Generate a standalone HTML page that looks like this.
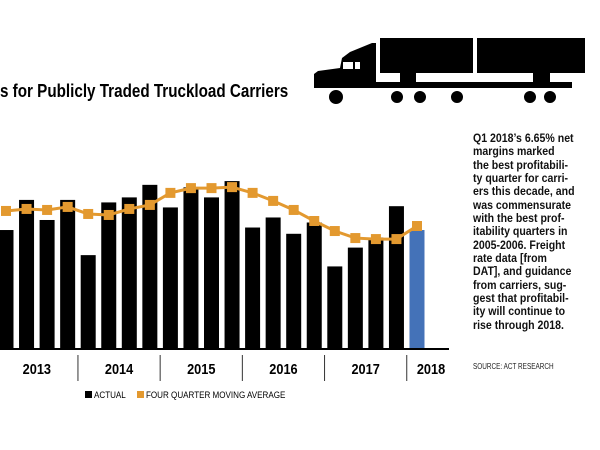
<!DOCTYPE html>
<html><head><meta charset="utf-8">
<style>
body{margin:0;width:600px;height:450px;background:#fff;overflow:hidden;font-family:"Liberation Sans",sans-serif;}
#wrap{position:relative;width:600px;height:450px;}
.title{position:absolute;left:0;top:82px;font-weight:bold;font-size:18px;line-height:18px;transform:scaleX(0.845);transform-origin:left top;white-space:nowrap;}
.note{position:absolute;left:473px;top:132px;width:150px;font-weight:bold;font-size:12px;line-height:13.35px;transform:scaleX(0.88);transform-origin:left top;white-space:nowrap;color:#111;}
.src{position:absolute;left:473px;top:362px;font-size:8px;transform:scaleX(0.8);transform-origin:left top;white-space:nowrap;color:#222;}
</style></head><body>
<div id="wrap">
<div class="title">s for Publicly Traded Truckload Carriers</div>
<svg width="600" height="450" style="position:absolute;left:0;top:0">
<g fill="#000">
<rect x="380" y="38" width="93" height="35"/>
<rect x="477" y="38" width="108" height="35"/>
<rect x="376" y="82" width="196" height="6"/>
<path d="M314 74 L318 71 L340 68 L342 58 L350 52 L372 43 L376 43 L376 88 L314 88 Z"/>
<rect x="343" y="62" width="10" height="7" fill="#fff"/>
<rect x="355" y="62" width="5" height="7" fill="#fff"/>
<rect x="400" y="73" width="16" height="9"/>
<rect x="533" y="73" width="17" height="9"/>
<g stroke="#fff" stroke-width="2">
<circle cx="336" cy="97" r="8"/><circle cx="397" cy="97" r="7"/><circle cx="420" cy="97" r="7"/>
<circle cx="457" cy="97" r="7"/><circle cx="530" cy="97" r="7"/><circle cx="550" cy="97" r="7"/>
</g>
</g>
<g id="bars"></g>
<g id="axis"></g>
<g id="line"></g>
<g>
<rect x="85" y="391" width="7" height="7" fill="#000"/>
<text x="94" y="398" font-size="9.5" transform="translate(94 0) scale(0.85 1) translate(-94 0)">ACTUAL</text>
<rect x="137" y="391" width="7" height="7" fill="#e3992f"/>
<text x="146" y="398" font-size="9.5" transform="translate(146 0) scale(0.85 1) translate(-146 0)">FOUR QUARTER MOVING AVERAGE</text>
</g>
</svg>
<div class="note">Q1 2018’s 6.65% net<br>margins marked<br>the best profitabili-<br>ty quarter for carri-<br>ers this decade, and<br>was commensurate<br>with the best prof-<br>itability quarters in<br>2005-2006. Freight<br>rate data [from<br>DAT], and guidance<br>from carriers, sug-<br>gest that profitabil-<br>ity will continue to<br>rise through 2018.</div>
<div class="src">SOURCE: ACT RESEARCH</div>
</div>
<script>
const actual=[4.7,5.9,5.1,5.9,3.7,5.8,6.0,6.5,5.6,6.4,6.0,6.65,4.8,5.2,4.55,5.0,3.25,4.0,4.4,5.65,4.7];
const movingAvg=[5.46,5.54,5.5,5.62,5.34,5.3,5.54,5.7,6.18,6.37,6.37,6.41,6.18,5.86,5.5,5.06,4.66,4.38,4.34,4.34,4.86];
const years=["2013","2014","2015","2016","2017","2018"];
const yearStart=[-1,3,7,11,15,19];
const NS='http://www.w3.org/2000/svg';
const x0=6,pitch=20.55,base=348,yScale=v=>base-v*25.1;
const xc=i=>x0+i*pitch;
const bars=document.getElementById('bars');
actual.forEach((v,i)=>{const r=document.createElementNS(NS,'rect');
r.setAttribute('x',xc(i)-7.5);r.setAttribute('y',yScale(v));r.setAttribute('width',15);r.setAttribute('height',base-yScale(v));
r.setAttribute('fill',i===actual.length-1?'#4472b8':'#000');


bars.appendChild(r);});
const ax=document.getElementById('axis');
const bl=document.createElementNS(NS,'line');
bl.setAttribute('x1',0);bl.setAttribute('x2',449);bl.setAttribute('y1',base+1);bl.setAttribute('y2',base+1);bl.setAttribute('stroke','#000');bl.setAttribute('stroke-width',2);


ax.appendChild(bl);
years.forEach((y,k)=>{
 const s=yearStart[k];
 if(k>0){const sep=document.createElementNS(NS,'line');
  sep.setAttribute('x1',xc(s)+10.3);sep.setAttribute('x2',xc(s)+10.3);sep.setAttribute('y1',355);sep.setAttribute('y2',381);sep.setAttribute('stroke','#333');sep.setAttribute('stroke-width',1);
  
  
  ax.appendChild(sep);}
 const t=document.createElementNS(NS,'text');
 const cx=k===5?431:(xc(s)+10.3+xc(s+4)+10.3)/2;
 t.setAttribute('x',cx);t.setAttribute('y',374);t.setAttribute('text-anchor','middle');t.setAttribute('font-size','15');t.setAttribute('font-weight','bold');
 t.setAttribute('transform',`translate(${cx} 0) scale(0.85 1) translate(${-cx} 0)`);
 t.textContent=y;
 
 
 ax.appendChild(t);});
const lg=document.getElementById('line');
const pl=document.createElementNS(NS,'polyline');
pl.setAttribute('points',movingAvg.map((v,i)=>xc(i)+','+yScale(v)).join(' '));
pl.setAttribute('fill','none');pl.setAttribute('stroke','#e3992f');pl.setAttribute('stroke-width',3);


lg.appendChild(pl);
movingAvg.forEach((v,i)=>{const m=document.createElementNS(NS,'rect');
 m.setAttribute('x',xc(i)-5);m.setAttribute('y',yScale(v)-5);m.setAttribute('width',10);m.setAttribute('height',10);m.setAttribute('fill','#e3992f');
 
 
 lg.appendChild(m);});
</script>
</body></html>
